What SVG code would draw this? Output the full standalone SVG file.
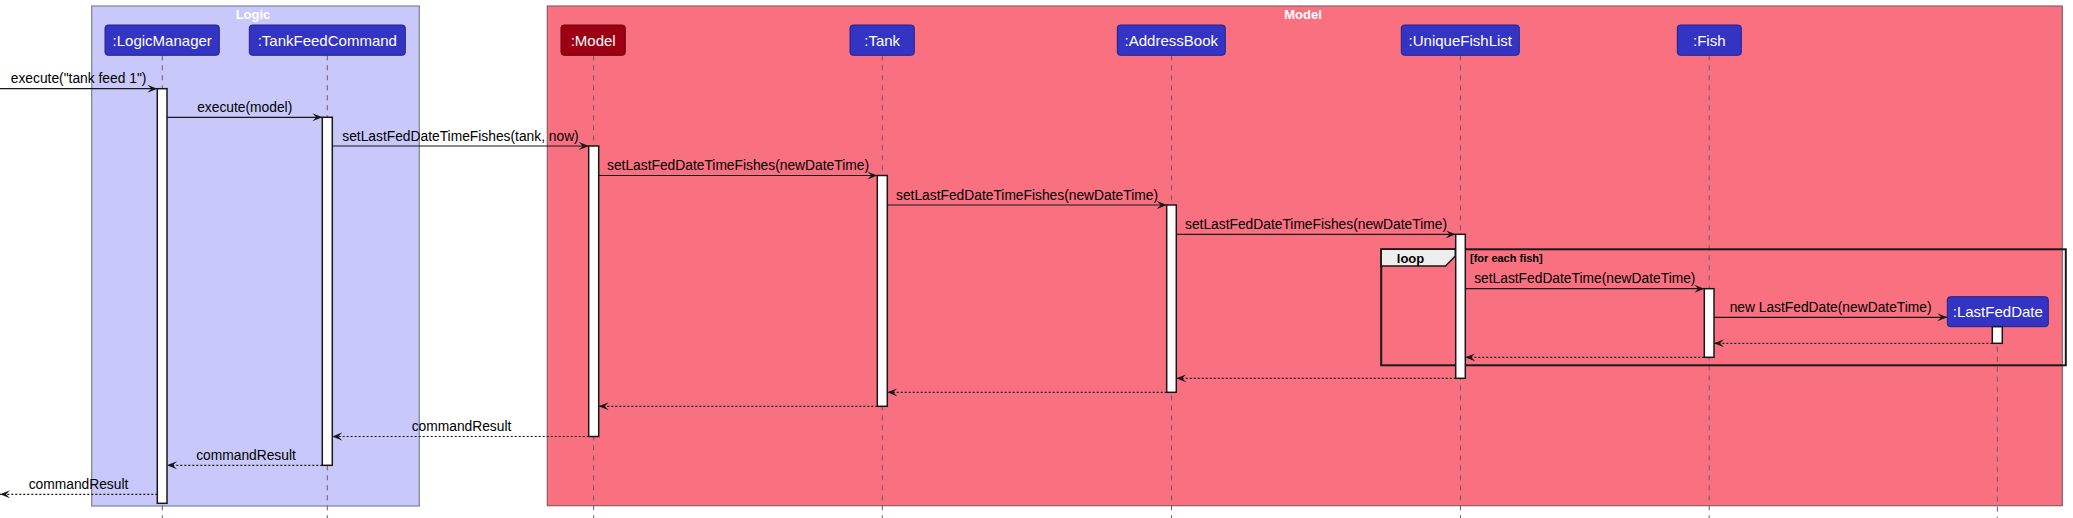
<svg xmlns="http://www.w3.org/2000/svg" width="2073" height="518" viewBox="0 0 2073 518">
<defs>
<style>
.frame-logic{fill:#C8C8FA;stroke:#7E7E9E;stroke-width:1.2}
.frame-model{fill:#F97181;stroke:#8A6068;stroke-width:1.2}
.ftitle{font-family:"Liberation Sans",Arial,sans-serif;font-size:13px;font-weight:bold;fill:#FFFFFF;text-anchor:middle}
.box{fill:#3333C4;stroke:#23238A;stroke-width:1}
.box-red{fill:#9D0012;stroke:#6A000C;stroke-width:1}
.blabel{font-family:"Liberation Sans",Arial,sans-serif;font-size:15px;fill:#FFFFFF;text-anchor:middle}
.life{stroke:#6E5A66;stroke-width:1;stroke-dasharray:5,5;fill:none}
.act{fill:#FFFFFF;stroke:#181818;stroke-width:1.5}
.msg{stroke:#181818;stroke-width:1.2;fill:none;marker-end:url(#arr)}
.ret{stroke:#181818;stroke-width:1.2;fill:none;stroke-dasharray:2,2;marker-end:url(#arr)}
.mlabel{font-family:"Liberation Sans",Arial,sans-serif;font-size:13.8px;fill:#000000;text-anchor:middle}
.loopframe{fill:none;stroke:#181818;stroke-width:2}
.looptab{fill:#EEEEEE;stroke:#181818;stroke-width:1.5}
.looptxt{font-family:"Liberation Sans",Arial,sans-serif;font-size:13px;font-weight:bold;fill:#000000;text-anchor:middle}
.guard{font-family:"Liberation Sans",Arial,sans-serif;font-size:11px;font-weight:bold;fill:#000000}
</style>
<marker id="arr" viewBox="0 -5 11 10" refX="10" refY="0" markerWidth="11" markerHeight="10" markerUnits="userSpaceOnUse" orient="auto">
<path d="M0,-4 L10,0 L0,4 L4,0 Z" fill="#181818" stroke="none"/>
</marker>
</defs>

<g id="frame-logic">
<rect class="frame-logic" x="91.7" y="6" width="327.6" height="500"/>
<text class="ftitle" x="253" y="18.5">Logic</text>
</g>
<g id="frame-model">
<rect class="frame-model" x="547.3" y="6" width="1515" height="499.7"/>
<text class="ftitle" x="1303" y="18.5">Model</text>
</g>

<g id="lifelines">
<line class="life" x1="162.3" y1="55.3" x2="162.3" y2="518"/>
<line class="life" x1="327.3" y1="55.3" x2="327.3" y2="518"/>
<line class="life" x1="593.6" y1="55.3" x2="593.6" y2="518"/>
<line class="life" x1="882.3" y1="55.3" x2="882.3" y2="518"/>
<line class="life" x1="1171.5" y1="55.3" x2="1171.5" y2="518"/>
<line class="life" x1="1460.5" y1="55.3" x2="1460.5" y2="518"/>
<line class="life" x1="1709.2" y1="55.3" x2="1709.2" y2="518"/>
<line class="life" x1="1997.3" y1="326.7" x2="1997.3" y2="518"/>
</g>

<g id="loop">
<rect class="loopframe" x="1381.2" y="249.3" width="684.6" height="116"/>
<path class="looptab" d="M1381.2,249.3 L1455.3,249.3 L1455.3,256 L1445.5,266 L1381.2,266 Z"/>
<text class="looptxt" x="1410.5" y="262.5">loop</text>
<text class="guard" x="1470" y="262">[for each fish]</text>
</g>

<g id="node-logicmanager">
<rect class="box" x="105" y="25" width="114.3" height="30.3" rx="3"/>
<text class="blabel" x="162.2" y="45.5">:LogicManager</text>
<rect class="act" x="157.3" y="88.7" width="9.7" height="414.6"/>
</g>
<g id="node-tankfeedcommand">
<rect class="box" x="249.3" y="25" width="156" height="30.3" rx="3"/>
<text class="blabel" x="327.3" y="45.5">:TankFeedCommand</text>
<rect class="act" x="322.3" y="117.3" width="10" height="348"/>
</g>
<g id="node-model">
<rect class="box-red" x="561" y="25" width="64.3" height="30.3" rx="3"/>
<text class="blabel" x="593.2" y="45.5">:Model</text>
<rect class="act" x="588.7" y="146" width="10" height="290.5"/>
</g>
<g id="node-tank">
<rect class="box" x="850" y="25" width="64.3" height="30.3" rx="3"/>
<text class="blabel" x="882.2" y="45.5">:Tank</text>
<rect class="act" x="877.3" y="175.5" width="10" height="230.8"/>
</g>
<g id="node-addressbook">
<rect class="box" x="1117.3" y="25" width="108" height="30.3" rx="3"/>
<text class="blabel" x="1171.3" y="45.5">:AddressBook</text>
<rect class="act" x="1166.7" y="205" width="9.6" height="187.3"/>
</g>
<g id="node-uniquefishlist">
<rect class="box" x="1401.3" y="25" width="118" height="30.3" rx="3"/>
<text class="blabel" x="1460.3" y="45.5">:UniqueFishList</text>
<rect class="act" x="1455.7" y="234.3" width="9.6" height="144"/>
</g>
<g id="node-fish">
<rect class="box" x="1677.3" y="25" width="64" height="30.3" rx="3"/>
<text class="blabel" x="1709.3" y="45.5">:Fish</text>
<rect class="act" x="1704.3" y="288.7" width="9.7" height="68.6"/>
</g>
<g id="node-lastfeddate">
<rect class="box" x="1947.3" y="296.7" width="101" height="30" rx="3"/>
<text class="blabel" x="1997.8" y="317">:LastFedDate</text>
<rect class="act" x="1992.3" y="326.7" width="10" height="16.6"/>
</g>

<g id="connectors">
<line class="msg" x1="0" y1="88.7" x2="157.3" y2="88.7"/>
<text class="mlabel" x="78.6" y="83.4">execute("tank feed 1")</text>
<line class="msg" x1="167" y1="117.3" x2="322.3" y2="117.3"/>
<text class="mlabel" x="244.7" y="112">execute(model)</text>
<line class="msg" x1="332.3" y1="146" x2="588.7" y2="146"/>
<text class="mlabel" x="460.5" y="140.7">setLastFedDateTimeFishes(tank, now)</text>
<line class="msg" x1="598.7" y1="175.5" x2="877.3" y2="175.5"/>
<text class="mlabel" x="738" y="170.2">setLastFedDateTimeFishes(newDateTime)</text>
<line class="msg" x1="887.3" y1="205" x2="1166.7" y2="205"/>
<text class="mlabel" x="1027" y="199.7">setLastFedDateTimeFishes(newDateTime)</text>
<line class="msg" x1="1176.3" y1="234.3" x2="1455.7" y2="234.3"/>
<text class="mlabel" x="1316" y="229">setLastFedDateTimeFishes(newDateTime)</text>
<line class="msg" x1="1465.3" y1="288.7" x2="1704.3" y2="288.7"/>
<text class="mlabel" x="1584.8" y="283.4">setLastFedDateTime(newDateTime)</text>
<line class="msg" x1="1714" y1="317.3" x2="1947.3" y2="317.3"/>
<text class="mlabel" x="1830.6" y="312">new LastFedDate(newDateTime)</text>
<line class="ret" x1="1992.3" y1="343.3" x2="1714" y2="343.3"/>
<line class="ret" x1="1704.3" y1="357.3" x2="1465.3" y2="357.3"/>
<line class="ret" x1="1455.7" y1="378.3" x2="1176.3" y2="378.3"/>
<line class="ret" x1="1166.7" y1="392.3" x2="887.3" y2="392.3"/>
<line class="ret" x1="877.3" y1="406.3" x2="598.7" y2="406.3"/>
<line class="ret" x1="588.7" y1="436.5" x2="332.3" y2="436.5"/>
<text class="mlabel" x="461.5" y="431.2">commandResult</text>
<line class="ret" x1="322.3" y1="465.3" x2="167" y2="465.3"/>
<text class="mlabel" x="246" y="460">commandResult</text>
<line class="ret" x1="157.3" y1="494.3" x2="0" y2="494.3"/>
<text class="mlabel" x="78.5" y="489">commandResult</text>
</g>
</svg>
